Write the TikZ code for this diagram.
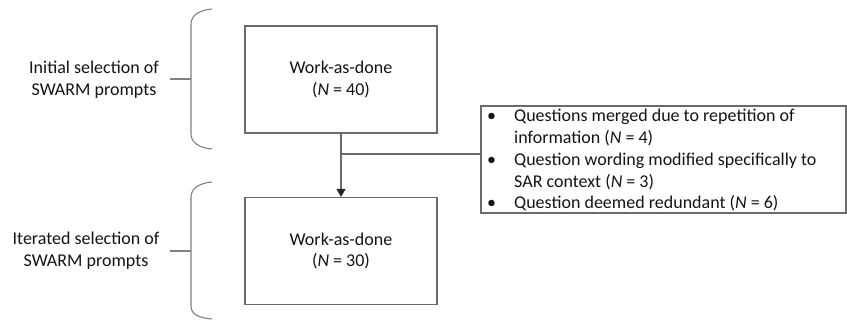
\documentclass[tikz,border=0pt]{standalone}
\usepackage{fontspec}
\setmainfont{Carlito}
\usetikzlibrary{arrows.meta}
\begin{document}
\begin{tikzpicture}[x=1pt,y=-1pt,
  every node/.style={font=\fontsize{18}{21.8}\selectfont, text=black!92},
  line/.style={draw=black!58, line width=1.2pt},
  stagebox/.style={line, rectangle, minimum width=192pt, minimum height=107pt, align=center, inner sep=0pt},
  notebox/.style={line, rectangle, minimum width=365pt, minimum height=107pt, inner sep=0pt},
  bracelabel/.style={align=center, inner sep=0pt},
  brace/.style={draw=black!50, line width=1.1pt}]
\useasboundingbox (0,0) rectangle (847,323);

% the two stages
\node[stagebox] (b1) at (341,79.5) {Work-as-done\\(\textit{N} = 40)};
\node[stagebox] (b2) at (341,251) {Work-as-done\\(\textit{N} = 30)};

% note box with the changes
\node[notebox] (nb) at (663.5,159.5) {};
\node[anchor=base west, inner sep=0pt] (nt) at (487,121.7) {\parbox[t]{355pt}{\raggedright
  \makebox[27pt][l]{•}Questions merged due to repetition of\\
  \hspace*{27pt}information (\textit{N} = 4)\\
  \makebox[27pt][l]{•}Question wording modified specifically to\\
  \hspace*{27pt}SAR context (\textit{N} = 3)\\
  \makebox[27pt][l]{•}Question deemed redundant (\textit{N} = 6)}};

% connectors
\coordinate (j) at (341,154);
\draw[line, -{Triangle[width=9pt,length=8pt,color=black!85]}] (b1.south) -- (b2.north);
\draw[line] (j) -- (j -| nb.west);

% braces with their labels
\draw[brace] (212,9) .. controls (200,10) and (191,15) .. (191,24) -- (191,134)
  .. controls (191,143) and (200,148) .. (212,149);
\coordinate (t1) at (191,79);
\draw[brace] (t1) -- ++(-21,0);
\node[bracelabel] (l1) at (94,79.5) {Initial selection of\\SWARM prompts};

\draw[brace] (212,182) .. controls (200,183) and (191,188) .. (191,197) -- (191,306)
  .. controls (191,315) and (200,318) .. (212,319);
\coordinate (t2) at (191,251);
\draw[brace] (t2) -- ++(-21,0);
\node[bracelabel] (l2) at (86,250.5) {Iterated selection of\\SWARM prompts};
\end{tikzpicture}
\end{document}
